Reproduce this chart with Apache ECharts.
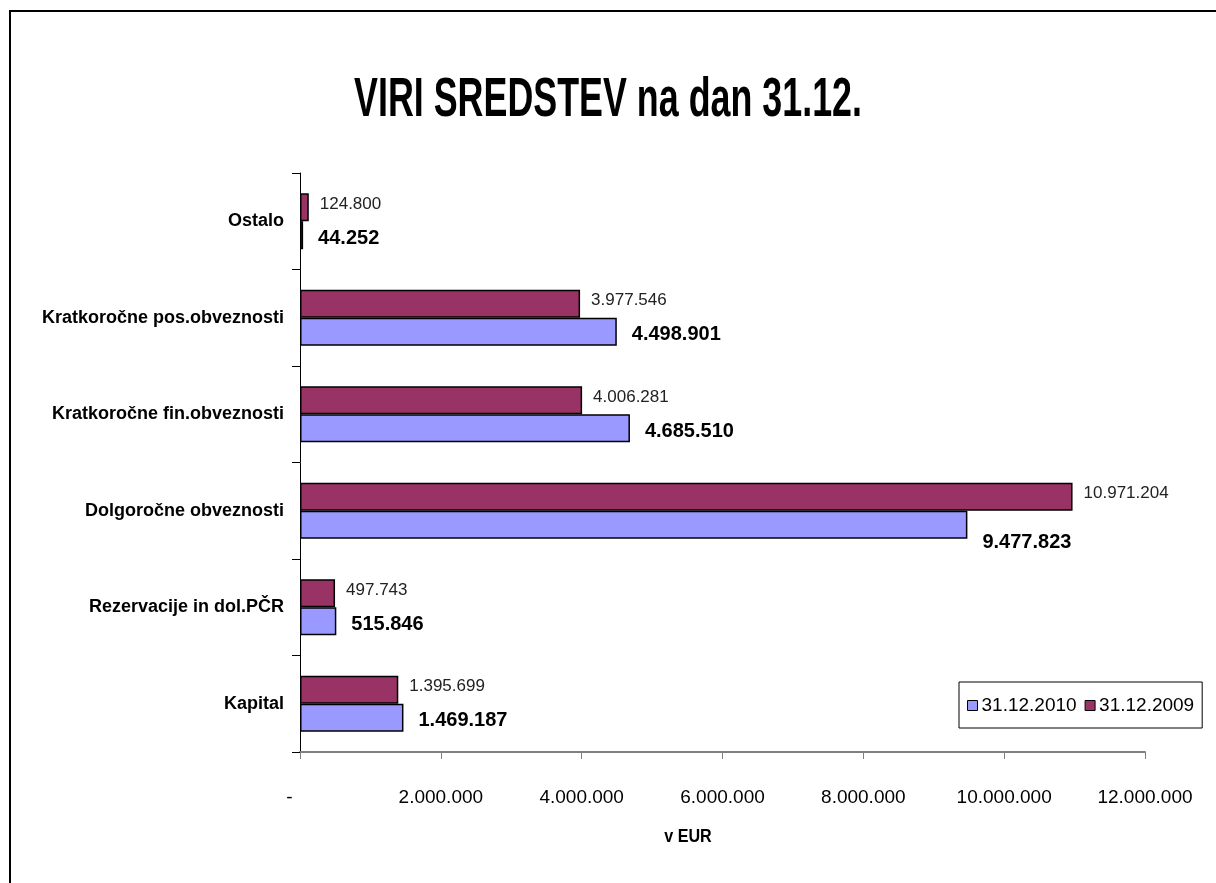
<!DOCTYPE html>
<html>
<head>
<meta charset="utf-8">
<title>VIRI SREDSTEV</title>
<script src="https://cdn.jsdelivr.net/npm/echarts@6/dist/echarts.min.js"></script>
<style>
html, body { margin: 0; padding: 0; background: #fff; }
#chart { width: 1216px; height: 883px; }
</style>
</head>
<body>
<div id="chart"></div>
<script>
// podatki
var categories = ['Kapital', 'Rezervacije in dol.PČR', 'Dolgoročne obveznosti',
    'Kratkoročne fin.obveznosti', 'Kratkoročne pos.obveznosti', 'Ostalo'];
var seriesNames = ['31.12.2010', '31.12.2009'];
var values2010 = [1469187, 515846, 9477823, 4685510, 4498901, 44252];
var values2009 = [1395699, 497743, 10971204, 4006281, 3977546, 124800];
var axisTicks = [0, 2000000, 4000000, 6000000, 8000000, 10000000, 12000000];

var font = "'Liberation Sans', Arial, sans-serif";

// 1234567 -> 1.234.567
function fmt(v) {
    return String(v).replace(/\B(?=(\d{3})+(?!\d))/g, '.');
}

// label for 2010 on the long bar sits lower, below the bar
var data2010 = values2010.map(function (v, i) {
    var item = { value: v };
    if (i === 2) item.label = { offset: [0, 18] };
    return item;
});

var myChart = echarts.init(document.getElementById('chart'));

var option = {
    backgroundColor: '#fff',
    animation: false,
    legend: {
        data: seriesNames,
        left: 959,
        top: 682,
        orient: 'horizontal',
        borderColor: '#000',
        borderWidth: 1,
        padding: [14, 8, 13, 8],
        itemGap: 8,
        itemWidth: 10,
        itemHeight: 10,
        icon: 'rect',
        itemStyle: { borderColor: '#000', borderWidth: 1 },
        textStyle: { fontFamily: font, fontSize: 19, color: '#000', padding: [0, 0, 0, -1] }
    },
    grid: { left: 300, right: 71, top: 173, bottom: 131, containLabel: false },
    xAxis: {
        type: 'value',
        min: axisTicks[0],
        max: axisTicks[axisTicks.length - 1],
        interval: axisTicks[1] - axisTicks[0],
        splitLine: { show: false },
        axisLine: { show: true, lineStyle: { color: '#808080', width: 2 } },
        axisTick: { show: true, length: 7, lineStyle: { color: '#808080', width: 1 } },
        axisLabel: {
            margin: 36,
            fontFamily: font,
            fontSize: 19,
            color: '#000',
            formatter: function (v) { return v === 0 ? '-    ' : fmt(v); }
        }
    },
    yAxis: {
        type: 'category',
        data: categories,
        axisLine: { show: true, lineStyle: { color: '#000', width: 1 } },
        axisTick: { show: true, length: 8, lineStyle: { color: '#000', width: 1 } },
        axisLabel: {
            margin: 16,
            fontFamily: font,
            fontSize: 18,
            fontWeight: 'bold',
            color: '#000'
        }
    },
    series: [
        {
            name: seriesNames[1],
            type: 'bar',
            data: values2009,
            barWidth: 28,
            barGap: '0%',
            itemStyle: { color: '#993366', borderColor: '#000', borderWidth: 1.5 },
            label: {
                show: true,
                position: 'right',
                distance: 11,
                offset: [0, -3],
                fontFamily: font,
                fontSize: 17,
                color: '#222',
                formatter: function (p) { return fmt(p.value); }
            }
        },
        {
            name: seriesNames[0],
            type: 'bar',
            data: data2010,
            barWidth: 28,
            barGap: '0%',
            itemStyle: { color: '#9999FF', borderColor: '#000', borderWidth: 1.5 },
            label: {
                show: true,
                position: 'right',
                distance: 15,
                offset: [0, 3],
                fontFamily: font,
                fontSize: 20,
                fontWeight: 'bold',
                color: '#000',
                formatter: function (p) { return fmt(p.value); }
            }
        }
    ],
    graphic: [
        {
            type: 'rect',
            shape: { x: 10, y: 11, width: 1400, height: 1000 },
            style: { fill: 'none', stroke: '#000', lineWidth: 2 },
            silent: true
        },
        {
            // naslov, stisnjen kot v originalu
            type: 'text',
            x: 608,
            y: 101,
            scaleX: 0.64,
            style: {
                text: 'VIRI SREDSTEV na dan 31.12.',
                align: 'center',
                verticalAlign: 'middle',
                fontFamily: font,
                fontSize: 56,
                fontWeight: 'bold',
                fill: '#000'
            }
        },
        {
            type: 'text',
            x: 688,
            y: 837,
            scaleX: 0.85,
            style: {
                text: 'v EUR',
                align: 'center',
                verticalAlign: 'middle',
                fontFamily: font,
                fontSize: 19,
                fontWeight: 'bold',
                fill: '#000'
            }
        }
    ]
};

myChart.setOption(option);
</script>
</body>
</html>
